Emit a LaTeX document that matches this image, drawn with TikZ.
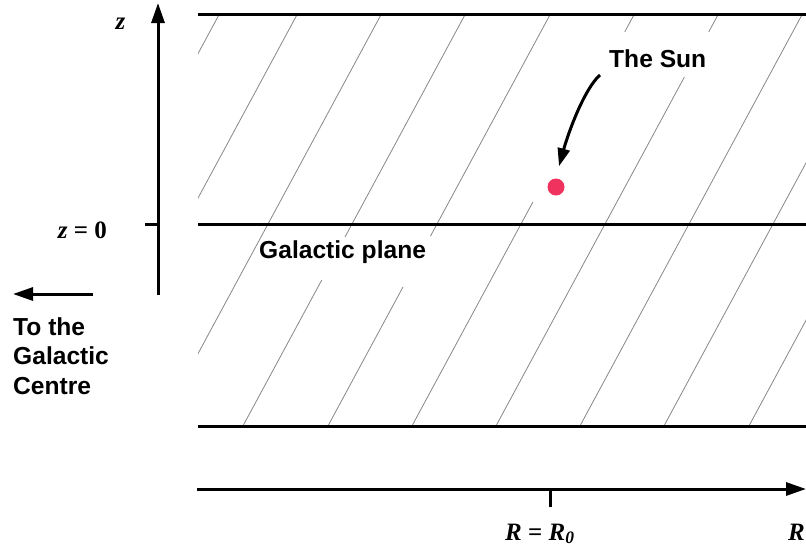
\documentclass[tikz,border=0pt]{standalone}
\usepackage{fontspec}
\setmainfont{Liberation Serif}
\setsansfont{Liberation Sans}
\usetikzlibrary{arrows.meta}
\definecolor{sunpink}{RGB}{240,50,95}
\definecolor{hatchgray}{RGB}{135,135,135}
\tikzset{
  thickline/.style={line width=3pt},
  hatchline/.style={hatchgray, line width=0.8pt},
  sanslabel/.style={font=\sffamily\bfseries\fontsize{24.6}{29.5}\selectfont, inner sep=0pt},
  seriflabel/.style={font=\bfseries\fontsize{25}{29}\selectfont, inner sep=0pt},
  axisarrow/.style={line width=3pt, -{Triangle[length=20pt,width=13pt]}},
  sunarrow/.style={line width=3pt, -{Triangle[length=18pt,width=12pt]}},
  tickline/.style={line width=3pt}
}
\begin{document}
\begin{tikzpicture}[x=1pt,y=-1pt]
\useasboundingbox (0,0) rectangle (806,552);
% hatching of the disc
\begin{scope}
  \clip (198,14) rectangle (806,426);
  \foreach \c/\ya/\yb in {106/14/426, 184/14/426, 268/14/426,
      352/14/237, 352/280/426, 437/14/236, 437/287/426,
      521/14/32, 521/202/426, 605/14/32, 605/77/426,
      689/14/426, 773/14/426, 858/14/426}
    \draw[hatchline] ({\c-0.54*(\ya-224)},\ya) -- ({\c-0.54*(\yb-224)},\yb);
\end{scope}
% boundary lines
\coordinate (topL) at (198,14);  \coordinate (topR) at (806,14);
\coordinate (midL) at (198,224); \coordinate (midR) at (806,224);
\coordinate (botL) at (198,426); \coordinate (botR) at (806,426);
\draw[thickline] (topL) -- (topR);
\draw[thickline] (midL) -- (midR);
\draw[thickline] (botL) -- (botR);
% z axis
\coordinate (zbot) at (158,295); \coordinate (ztop) at (158,3);
\draw[axisarrow] (zbot) -- (ztop);
\coordinate (ztickL) at (145,224); \coordinate (ztickR) at (158,224);
\draw[tickline] (ztickL) -- (ztickR);
\node[seriflabel, anchor=base] (zlab) at (120.5,29) {\textit{z}};
\node[seriflabel, anchor=base east] (zzero) at (107,238) {\textit{z} = 0};
% R axis
\coordinate (rL) at (197,489); \coordinate (rR) at (806,489);
\draw[axisarrow] (rL) -- (rR);
\coordinate (rtickT) at (550,489); \coordinate (rtickB) at (550,507);
\draw[tickline] (rtickT) -- (rtickB);
\node[seriflabel, anchor=base west] (rzero) at (505,540) {\textit{R} = \textit{R}\textsubscript{\textit{0}}};
\node[seriflabel, anchor=base west] (rlab) at (788,540) {\textit{R}};
% galactic centre arrow
\coordinate (gcR) at (93,294); \coordinate (gcL) at (13,294);
\draw[axisarrow] (gcR) -- (gcL);
\node[sanslabel, align=left, anchor=north west] (gctext) at (13,317) {To the\\Galactic\\Centre};
% galactic plane
\node[sanslabel, anchor=base west] (plane) at (259,258) {Galactic plane};
% the Sun
\node[circle, fill=sunpink, minimum size=17pt, inner sep=0pt] (sun) at (556,187) {};
\node[sanslabel, anchor=base west] (sunlabel) at (609,67) {The Sun};
\coordinate (arrstart) at ([xshift=-9pt,yshift=-8pt]sunlabel.base west);
\coordinate (suntip) at ([xshift=3pt,yshift=12pt]sun.north);
\draw[sunarrow] (arrstart) .. controls +(-15,13) and +(10,-36) .. (suntip);
\end{tikzpicture}
\end{document}
